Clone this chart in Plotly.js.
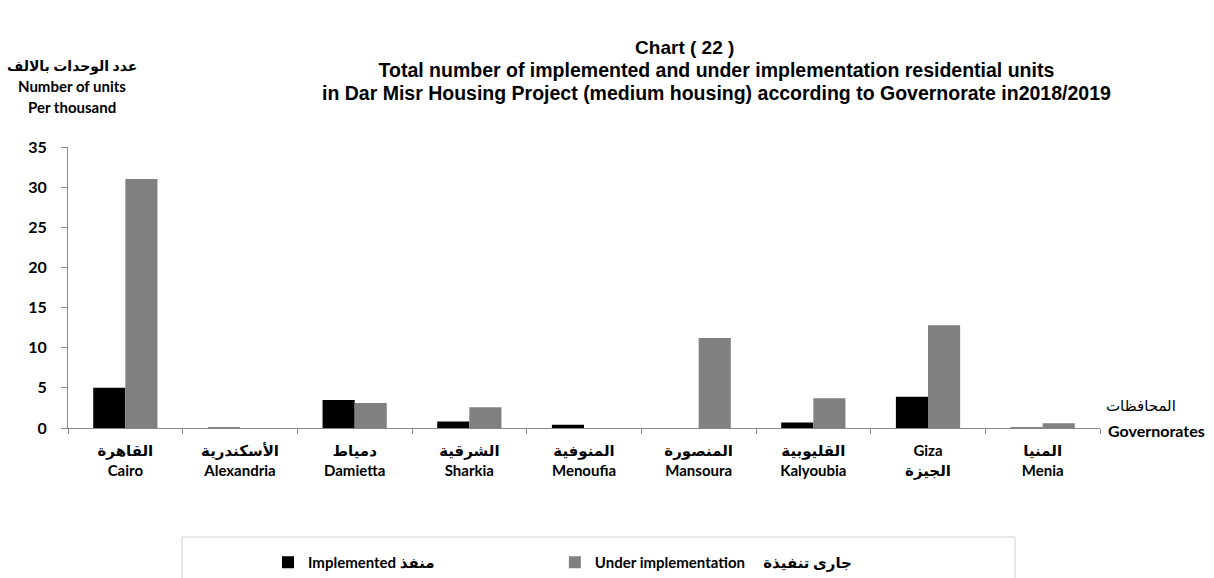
<!DOCTYPE html>
<html>
<head>
<meta charset="utf-8">
<script src="https://cdn.plot.ly/plotly-3.0.1.min.js"></script>
<style>html,body{margin:0;padding:0;background:#fff;}#chart{width:1214px;height:578px;}</style>
</head>
<body>
<div id="chart"></div>
<script>
const categoriesAr = ["القاهرة", "الأسكندرية", "دمياط", "الشرقية", "المنوفية", "المنصورة", "القليوبية", "Giza", "المنيا"];
const categoriesEn = ["Cairo", "Alexandria", "Damietta", "Sharkia", "Menoufia", "Mansoura", "Kalyoubia", "الجيزة", "Menia"];
const implemented = [5.0, 0.05, 3.5, 0.8, 0.4, 0, 0.7, 3.9, 0.05];
const underImplementation = [31.0, 0, 3.1, 2.6, 0, 11.2, 3.7, 12.8, 0.6];
const yTicks = [0, 5, 10, 15, 20, 25, 30, 35];

const labels = categoriesAr.map((a, i) => a + "<br>" + categoriesEn[i]);
const lab = "Lato, 'DejaVu Sans', sans-serif";
const arial = "'Liberation Sans', Arial, sans-serif";
const pad = "&nbsp;".repeat(30);

const traces = [
  {type: "bar", x: labels, y: implemented, name: "<b>Implemented منفذ</b>" + pad,
   marker: {color: "#000000"}},
  {type: "bar", x: labels, y: underImplementation, name: "<b>Under implementation&nbsp;&nbsp;&nbsp;&nbsp;&nbsp;جارى تنفيذة</b>",
   marker: {color: "#808080"}}
];

const W = 1032, H = 281, L = 68, B = 428;
const px = x => (x - L) / W;
const py = y => (B - y) / H;

const titleText =
  "<span style='font-size:19px'><b>Chart ( 22 )</b>" + "&nbsp;".repeat(12) + "</span><br>" +
  "<span style='font-size:19.5px'><b>Total number of implemented and under implementation residential units</b></span><br>" +
  "<span style='font-size:19.5px'><b>in Dar Misr Housing Project (medium housing) according to Governorate in2018/2019</b></span>";

const layout = {
  width: 1214, height: 578,
  margin: {l: 68, r: 114, t: 147, b: 150, autoexpand: false},
  paper_bgcolor: "#fff", plot_bgcolor: "#fff",
  barmode: "group", bargap: 0.44, bargroupgap: 0,
  showlegend: true,
  legend: {orientation: "h", x: px(268), xanchor: "left", y: py(546), yanchor: "top",
           font: {family: lab, size: 15, color: "#000"}, bgcolor: "rgba(0,0,0,0)",
           traceorder: "normal"},
  xaxis: {type: "category", showline: true, linecolor: "#888", linewidth: 1,
          ticks: "outside", tickson: "boundaries", ticklen: 5, tickcolor: "#888",
          ticklabelstandoff: 9,
          tickfont: {family: lab, size: 15, color: "#000", weight: "bold"},
          showgrid: false, zeroline: false, fixedrange: true},
  yaxis: {range: [0, 35], tickvals: yTicks, ticktext: yTicks.map(String),
          showline: true, linecolor: "#888", linewidth: 1,
          ticks: "outside", ticklen: 6, tickcolor: "#888",
          ticklabelstandoff: 11,
          tickfont: {family: lab, size: 16, color: "#000", weight: "bold"},
          showgrid: false, zeroline: false, fixedrange: true},
  shapes: [
    {type: "rect", xref: "paper", yref: "paper", x0: px(182), x1: px(1015), y0: py(537), y1: py(620),
     line: {color: "#d0d0d0", width: 1}, fillcolor: "rgba(0,0,0,0)"}
  ],
  annotations: [
    {text: titleText, xref: "paper", yref: "paper", x: px(716), y: py(70),
     xanchor: "center", yanchor: "middle", align: "center", showarrow: false,
     font: {family: arial, size: 17.7, color: "#000"}},
    {text: "<b>عدد الوحدات بالالف</b>", xref: "paper", yref: "paper", x: px(72), y: py(66),
     xanchor: "center", yanchor: "middle", showarrow: false, font: {family: lab, size: 14, color: "#000"}},
    {text: "<b>Number of units</b>", xref: "paper", yref: "paper", x: px(72), y: py(86),
     xanchor: "center", yanchor: "middle", showarrow: false, font: {family: lab, size: 15, color: "#000"}},
    {text: "<b>Per thousand</b>", xref: "paper", yref: "paper", x: px(72), y: py(107),
     xanchor: "center", yanchor: "middle", showarrow: false, font: {family: lab, size: 15, color: "#000"}},
    {text: "المحافظات", xref: "paper", yref: "paper", x: px(1141), y: py(405),
     xanchor: "center", yanchor: "middle", showarrow: false, font: {family: lab, size: 15, color: "#000"}},
    {text: "<b>Governorates</b>", xref: "paper", yref: "paper", x: px(1156), y: py(430),
     xanchor: "center", yanchor: "middle", showarrow: false, font: {family: lab, size: 16, color: "#000"}}
  ]
};

Plotly.newPlot("chart", traces, layout, {displayModeBar: false, staticPlot: true});
</script>
</body>
</html>
